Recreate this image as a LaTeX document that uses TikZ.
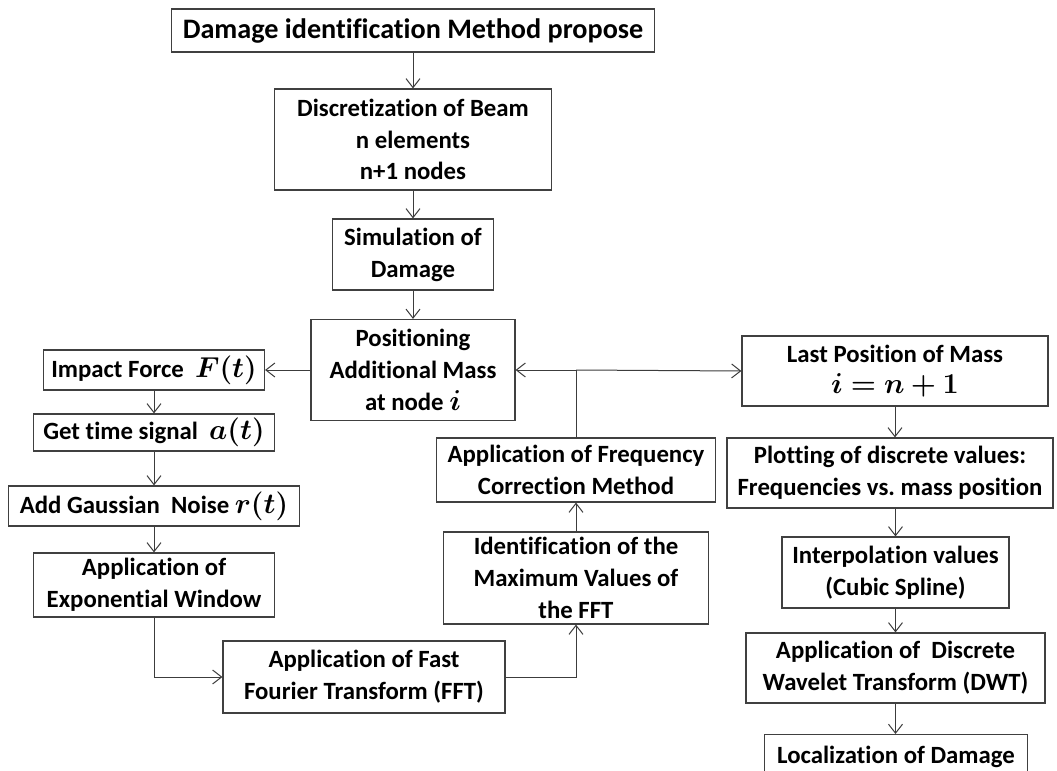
\documentclass[tikz,border=0pt]{standalone}
\usepackage{amsmath,bm}
\usepackage{fontspec}
\setmainfont{Carlito}[Ligatures=NoCommon]
\usepackage{tikz}
\usetikzlibrary{arrows.meta,positioning,calc}
\frenchspacing
\definecolor{fcline}{HTML}{3C3C3C}
\definecolor{fcedge}{HTML}{404040}
\newcommand{\fcmath}[1]{{\fontsize{14.2}{15.9}\selectfont$\bm{#1}$}}
\tikzset{
  box/.style={draw=fcedge,line width=0.6pt,fill=white,align=center,inner sep=1pt,
              font=\fontsize{12.4}{15.9}\selectfont\bfseries},
  ar/.style={-{Straight Barb[length=4.5pt,width=7pt]},line width=0.5pt,fcline},
  ln/.style={line width=0.5pt,fcline},
}
\begin{document}
\begin{tikzpicture}[x=0.5pt,y=-0.5pt]
    \useasboundingbox (0,0) rectangle (1057,771);
    \clip (0,0) rectangle (1057,771);
    % main column
    \node[box,minimum width=241.5pt,minimum height=21.5pt,font=\fontsize{14.1}{16}\selectfont\bfseries] (prop) at (413,30.5) {Damage identification Method propose};
    \node[box,minimum width=138.5pt,minimum height=50.5pt] (disc) at (413,139.5) {Discretization of Beam\\n elements\\n+1 nodes};
    \node[box,minimum width=80.5pt,minimum height=35.5pt] (sim) at (413,254.5) {Simulation of\\Damage};
    \node[box,minimum width=102pt,minimum height=50.5pt] (pos) at (413,370) {Positioning\\Additional Mass\\at node \fcmath{i}};
    % left column
    \node[box,minimum width=110.5pt,minimum height=20pt] (imp) at (154,370) {Impact Force~ \fcmath{F(t)}};
    \node[box,minimum width=120.5pt,minimum height=18.5pt] (sig) at (154,432.5) {Get time signal~ \fcmath{a(t)}};
    \node[box,minimum width=145.5pt,minimum height=20pt] (noise) at (154,506) {Add Gaussian~ Noise \fcmath{r(t)}};
    \node[box,minimum width=120.5pt,minimum height=32pt] (win) at (154,585) {Application of\\Exponential Window};
    \node[box,minimum width=141pt,minimum height=36pt] (fft) at (364,677) {Application of Fast\\Fourier Transform (FFT)};
    % middle column
    \node[box,minimum width=132.5pt,minimum height=46pt] (maxv) at (576,578) {Identification of the\\Maximum Values of\\the FFT};
    \node[box,minimum width=139.5pt,minimum height=32pt] (corr) at (576,470) {Application of Frequency\\Correction Method};
    % right column
    \node[box,minimum width=153pt,minimum height=35pt] (last) at (895,371) {Last Position of Mass\\\fcmath{i=n+1}};
    \node[box,minimum width=163pt,minimum height=35pt] (plot) at (890,473) {Plotting of discrete values:\\Frequencies vs. mass position};
    \node[box,minimum width=113.5pt,minimum height=35.5pt] (interp) at (895.5,572.5) {Interpolation values\\(Cubic Spline)};
    \node[box,minimum width=149.5pt,minimum height=35pt] (dwt) at (895.5,668) {Application of~ Discrete\\Wavelet Transform (DWT)};
    \node[box,minimum width=131.5pt,minimum height=22pt,anchor=north] (loc) at (896,734) {Localization of Damage};
    \coordinate (jn) at (corr.north |- pos.east);
    % connectors
    \draw[ar](prop)--(disc);
    \draw[ar](disc)--(sim);
    \draw[ar](sim)--(pos);
    \draw[ar](pos)--(imp);
    \draw[ar](imp)--(sig);
    \draw[ar](sig)--(noise);
    \draw[ar](noise)--(win);
    \draw[ar](win.south)|-(fft.west);
    \draw[ar](fft.east)-|(maxv.south);
    \draw[ar](maxv)--(corr);
    \draw[ln](corr.north)--(jn);
    \draw[ar](jn)--(pos.east);
    \draw[ar](jn)--(last.west);
    \draw[ar](last.south)--(last.south |- plot.north);
    \draw[ar](interp.north |- plot.south)--(interp.north);
    \draw[ar](interp)--(dwt);
    \draw[ar](dwt.south)--(dwt.south |- loc.north);
  \end{tikzpicture}
\end{document}
